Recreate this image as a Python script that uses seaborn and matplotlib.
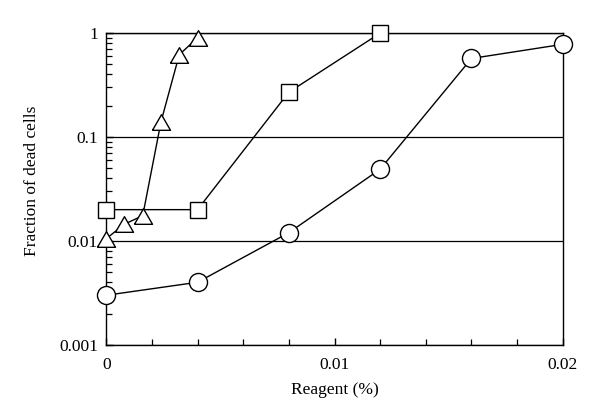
import matplotlib
matplotlib.use("Agg")
import matplotlib.pyplot as plt
import matplotlib.ticker as mticker
import seaborn as sns

sns.set_theme(style='ticks')
plt.rcParams['font.family'] = ['Liberation Serif', 'DejaVu Serif']

# reagent concentration (%) and fraction of dead cells per series
circle_x = [0, 0.004, 0.008, 0.012, 0.016, 0.02]
circle_y = [0.003, 0.004, 0.012, 0.049, 0.57, 0.78]

square_x = [0, 0.004, 0.008, 0.012]
square_y = [0.02, 0.02, 0.27, 1.0]

triangle_x = [0, 0.0008, 0.0016, 0.0024, 0.0032, 0.004]
triangle_y = [0.0105, 0.0145, 0.0175, 0.14, 0.62, 0.9]

y_ticks = [0.001, 0.01, 0.1, 1]
x_ticks = [0, 0.01, 0.02]

fig = plt.figure(figsize=(6, 4.19), dpi=100)
ax = fig.add_axes([0.177, 0.177, 0.761, 0.744])

tri = [(-1, -0.866), (1, -0.866), (0, 0.866), (-1, -0.866)]
style = dict(color='black', linewidth=1.0, markerfacecolor='white',
             markeredgecolor='black', markeredgewidth=1.0, clip_on=False)

sns.lineplot(x=circle_x, y=circle_y, marker='o', markersize=13, ax=ax, zorder=3, **style)
sns.lineplot(x=square_x, y=square_y, marker='s', markersize=11, ax=ax, zorder=4, **style)
sns.lineplot(x=triangle_x, y=triangle_y, marker=tri, markersize=13, ax=ax, zorder=5, **style)

ax.set_yscale('log')
ax.set_ylim(0.001, 1)
ax.set_xlim(0, 0.02)
ax.set_yticks(y_ticks)
ax.yaxis.set_major_formatter(mticker.FuncFormatter(lambda v, p: '%g' % v))
ax.yaxis.set_minor_locator(mticker.LogLocator(base=10, subs=range(2, 10)))
ax.yaxis.set_minor_formatter(mticker.NullFormatter())
ax.set_xticks(x_ticks)
ax.xaxis.set_major_formatter(mticker.FuncFormatter(lambda v, p: '%g' % v))
ax.xaxis.set_minor_locator(mticker.MultipleLocator(0.002))

ax.tick_params(which='both', direction='in', color='black', labelsize=12.5,
               labelcolor='black', top=False, right=False)
ax.tick_params(which='major', length=5, width=1.0, pad=6)
ax.tick_params(axis='x', which='major', pad=9)
ax.tick_params(which='minor', length=4.5, width=0.9)

ax.grid(axis='y', which='major', color='black', linewidth=0.9)
ax.set_axisbelow(True)
for s in ax.spines.values():
    s.set_color('black')
    s.set_linewidth(1.0)

ax.set_xlabel('Reagent (%)', fontsize=12.5, color='black', labelpad=6)
ax.set_ylabel('Fraction of dead cells', fontsize=12.5, color='black')
ax.yaxis.set_label_coords(-0.145, 0.525)

fig.savefig('out.png', dpi=100)
